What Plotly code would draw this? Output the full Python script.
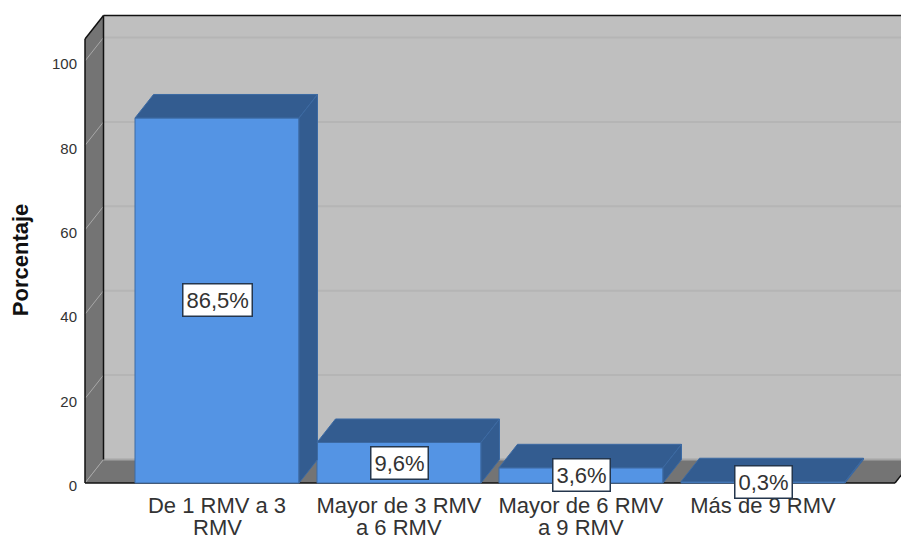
import plotly.graph_objects as go

# data
line1 = ["De 1 RMV a 3", "Mayor de 3 RMV", "Mayor de 6 RMV", "Más de 9 RMV"]
line2 = ["RMV", "a 6 RMV", "a 9 RMV", ""]
values = [86.5, 9.6, 3.6, 0.3]
value_labels = ["86,5%", "9,6%", "3,6%", "0,3%"]
y_ticks = [0, 20, 40, 60, 80, 100]

positions = list(range(len(values)))

# axis scales, 182 px per category, 4.22 px per percent
PX_X = 182
PX_Y = 4.22
x_min = -134 / PX_X
x_max = 684 / PX_X
y_min = -3 / PX_Y
y_max = 469 / PX_Y

# fake 3D depth of the box and bars
depth_x = 18.5 / PX_X
depth_y = 23.5 / PX_Y
bar_width = 164 / PX_X
wall_left = -132 / PX_X
floor_right = 678 / PX_X
wall_top = 444 / PX_Y  # front edge of the left wall

FRONT = "#5494e4"
DARK = "#335c90"
EDGE = "#3c6aa3"
WALL = "#bfbfbf"
SIDE = "#747474"
TEXT = "#333333"
FONT = "Liberation Sans"


def polygon(points, fill, line=None, width=1, layer="below"):
    path = "M " + " L ".join(f"{x},{y}" for x, y in points) + " Z"
    return dict(type="path", path=path, xref="x", yref="y", fillcolor=fill, layer=layer,
                line=dict(color=line or fill, width=width if line else 0))


def segment(x0, y0, x1, y1, color, width=1):
    return dict(type="line", x0=x0, y0=y0, x1=x1, y1=y1, xref="x", yref="y", layer="below",
                line=dict(color=color, width=width))


back_left = wall_left + depth_x
back_top = wall_top + depth_y

shapes = [
    # back wall
    polygon([(back_left, depth_y), (x_max, depth_y), (x_max, back_top), (back_left, back_top)], WALL),
    # left wall and floor
    polygon([(wall_left, 0), (back_left, depth_y), (back_left, back_top), (wall_left, wall_top)], SIDE),
    polygon([(wall_left, 0), (floor_right, 0), (floor_right + depth_x, depth_y), (back_left, depth_y)], SIDE),
    segment(back_left, depth_y, x_max, depth_y, "#a6a6a6", 2),
]

for t in y_ticks[1:]:
    shapes.append(segment(back_left, t + depth_y, x_max, t + depth_y, "#b5b5b5", 2))
    shapes.append(segment(wall_left, t, back_left, t + depth_y, "#a8a8a8", 1))

shapes += [
    segment(wall_left, 0, back_left, depth_y, "#a8a8a8", 1),
    segment(wall_left, 0, wall_left, wall_top, "#111111", 1.5),
    segment(wall_left, wall_top, back_left, back_top, "#111111", 1.5),
    segment(back_left, depth_y, back_left, back_top, "#111111", 1.5),
    segment(back_left, back_top, x_max, back_top, "#111111", 1.5),
    segment(wall_left, 0, floor_right, 0, "#111111", 1.5),
    segment(floor_right, 0, floor_right + depth_x, depth_y, "#111111", 1.5),
]

fig = go.Figure()
fig.add_trace(go.Bar(
    x=positions,
    y=values,
    width=bar_width,
    marker=dict(color=FRONT, line=dict(color=EDGE, width=1)),
    hoverinfo="skip",
))

# top and side faces of each bar
for pos, val in zip(positions, values):
    left = pos - bar_width / 2
    right = pos + bar_width / 2
    shapes.append(polygon([(left, val), (right, val), (right + depth_x, val + depth_y), (left + depth_x, val + depth_y)],
                          DARK, EDGE, 1, "above"))
    shapes.append(polygon([(right, 0), (right + depth_x, depth_y), (right + depth_x, val + depth_y), (right, val)],
                          DARK, EDGE, 1, "above"))

annotations = []
for pos, val, label in zip(positions, values, value_labels):
    annotations.append(dict(
        x=pos, y=val / 2, text=label, showarrow=False,
        font=dict(family=FONT, size=22, color=TEXT),
        bgcolor="white", bordercolor="#24364d", borderwidth=1.5, borderpad=3,
    ))

# plotly's <br> spacing is too wide here, so the second line is placed by hand
for pos, label in zip(positions, line2):
    if label:
        annotations.append(dict(
            x=pos, y=0, yref="paper", yanchor="top", yshift=-27, text=label, showarrow=False,
            font=dict(family=FONT, size=22, color=TEXT),
        ))

# axis title sits below the middle of the axis, so it is an annotation too
annotations.append(dict(
    xref="paper", x=0, xanchor="center", xshift=-63, y=52.8, text="<b>Porcentaje</b>", textangle=-90,
    showarrow=False, font=dict(family=FONT, size=22, color="#111111"),
))

fig.update_layout(
    width=901,
    height=538,
    margin=dict(l=83, r=0, t=14, b=52),
    paper_bgcolor="white",
    plot_bgcolor="white",
    showlegend=False,
    shapes=shapes,
    annotations=annotations,
    xaxis=dict(
        range=[x_min, x_max],
        tickvals=positions,
        ticktext=line1,
        tickfont=dict(family=FONT, size=22, color=TEXT),
        showgrid=False,
        zeroline=False,
        ticks="outside",
        ticklen=0,
        tickcolor="rgba(0,0,0,0)",
    ),
    yaxis=dict(
        range=[y_min, y_max],
        tickvals=y_ticks,
        tickfont=dict(family=FONT, size=15, color=TEXT),
        ticklabelshift=3,
        showgrid=False,
        zeroline=False,
        ticks="outside",
        ticklen=2,
        tickcolor="rgba(0,0,0,0)",
    ),
)

fig.write_html(
    "out.html",
    config={"displayModeBar": False},
    post_script="document.body.style.margin='0';document.body.style.overflow='hidden';",
)
